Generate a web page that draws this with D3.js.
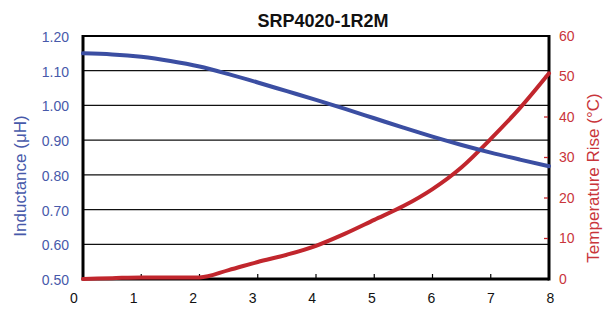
<!DOCTYPE html>
<html>
<head>
<meta charset="UTF-8">
<script src="https://cdn.jsdelivr.net/npm/d3@7"></script>
<style>
  body { margin: 0; background: #fff; }
  text { font-family: "Liberation Sans Narrow", "Arial Narrow", sans-serif; }
  .title { font-family: "Liberation Sans", Arial, sans-serif; font-weight: bold; }
</style>
</head>
<body>
<script>
// current (A)
var current = [0, 0.5, 1, 1.5, 2, 2.5, 3, 3.5, 4, 4.5, 5, 5.5, 6, 6.5, 7, 7.5, 8];
// inductance (uH)
var inductance = [1.150, 1.147, 1.140, 1.128, 1.112, 1.090, 1.066, 1.041, 1.016, 0.990, 0.963, 0.936, 0.910, 0.886, 0.864, 0.844, 0.825];
// temperature rise (C)
var tempRise = [0, 0.2, 0.4, 0.4, 0.4, 2.2, 4.2, 6.0, 8.2, 11.2, 14.6, 18.0, 22.2, 27.6, 34.6, 42.2, 50.8];

var xTicks = [0, 1, 2, 3, 4, 5, 6, 7, 8];
var leftTicks = [0.5, 0.6, 0.7, 0.8, 0.9, 1.0, 1.1, 1.2];
var rightTicks = [0, 10, 20, 30, 40, 50, 60];

var W = 613, H = 312;
var pLeft = 83, pRight = 549, pTop = 36, pBottom = 279;
var blue = "#3b4ea2", blueText = "#4759aa";
var red = "#c1262d", redText = "#c9353b";

var svg = d3.select("body").append("svg")
  .attr("width", W).attr("height", H);

var x = d3.scaleLinear().domain([0, 8]).range([pLeft, pRight]);
// the tick labels sit a bit to the left of the tick marks in the original
var xLab = d3.scaleLinear().domain([0, 8]).range([73.5, 550]);
var yL = d3.scaleLinear().domain([0.5, 1.2]).range([pBottom, pTop]);
var yR = d3.scaleLinear().domain([0, 60]).range([pBottom, pTop]);

// gridlines
svg.append("g").selectAll("line")
  .data(leftTicks.slice(1, -1))
  .enter().append("line")
  .attr("x1", pLeft).attr("x2", pRight)
  .attr("y1", function(d) { return yL(d); })
  .attr("y2", function(d) { return yL(d); })
  .attr("stroke", "#111").attr("stroke-width", 1.3);

// frame
svg.append("line").attr("x1", pLeft).attr("x2", pRight).attr("y1", pTop).attr("y2", pTop)
  .attr("stroke", "#000").attr("stroke-width", 2.2);
svg.append("line").attr("x1", pLeft).attr("x2", pLeft).attr("y1", pTop - 1).attr("y2", pBottom + 1.5)
  .attr("stroke", "#000").attr("stroke-width", 3);
svg.append("line").attr("x1", pRight).attr("x2", pRight).attr("y1", pTop - 1).attr("y2", pBottom + 1.5)
  .attr("stroke", "#000").attr("stroke-width", 3);
svg.append("line").attr("x1", pLeft).attr("x2", pRight).attr("y1", pBottom).attr("y2", pBottom)
  .attr("stroke", "#000").attr("stroke-width", 3);

// bottom tick marks (inside)
svg.append("g").selectAll("line")
  .data(xTicks.slice(1, -1))
  .enter().append("line")
  .attr("x1", function(d) { return x(d); }).attr("x2", function(d) { return x(d); })
  .attr("y1", pBottom).attr("y2", pBottom - 5)
  .attr("stroke", "#000").attr("stroke-width", 1.2);

// right tick marks (red, inside)
svg.append("g").selectAll("line")
  .data(rightTicks.slice(1, -1))
  .enter().append("line")
  .attr("x1", pRight - 5).attr("x2", pRight - 1)
  .attr("y1", function(d) { return yR(d); }).attr("y2", function(d) { return yR(d); })
  .attr("stroke", red).attr("stroke-width", 1.3);

// x labels
var xAxis = d3.axisBottom(xLab).tickValues(xTicks).tickSize(0).tickPadding(0);
var gx = svg.append("g").attr("transform", "translate(0,293)").call(xAxis);
gx.select(".domain").remove();
gx.selectAll("text").attr("font-size", 14).attr("fill", "#111").attr("font-family", null);

// left labels
var yAxisL = d3.axisLeft(yL).tickValues(leftTicks).tickSize(0).tickPadding(0)
  .tickFormat(d3.format(".2f"));
var gl = svg.append("g").attr("transform", "translate(69,1)").call(yAxisL);
gl.select(".domain").remove();
gl.selectAll("text").attr("font-size", 14).attr("fill", blueText).attr("font-family", null);

// right labels
var yAxisR = d3.axisRight(yR).tickValues(rightTicks).tickSize(0).tickPadding(0);
var gr = svg.append("g").attr("transform", "translate(559,0)").call(yAxisR);
gr.select(".domain").remove();
gr.selectAll("text").attr("font-size", 14).attr("fill", redText).attr("font-family", null);

// titles
svg.append("text").attr("class", "title")
  .attr("x", 323).attr("y", 27).attr("text-anchor", "middle")
  .attr("font-size", 18).attr("fill", "#111")
  .text("SRP4020-1R2M");

svg.append("text")
  .attr("transform", "translate(26,176) rotate(-90)")
  .attr("text-anchor", "middle").attr("font-size", 17).attr("fill", blueText)
  .text("Inductance (μH)");

svg.append("text")
  .attr("transform", "translate(599,178) rotate(-90)")
  .attr("text-anchor", "middle").attr("font-size", 17).attr("fill", redText)
  .text("Temperature Rise (°C)");

// curves
var lineL = d3.line()
  .x(function(d, i) { return x(current[i]); })
  .y(function(d) { return yL(d); })
  .curve(d3.curveMonotoneX);
var lineR = d3.line()
  .x(function(d, i) { return x(current[i]); })
  .y(function(d) { return yR(d); })
  .curve(d3.curveMonotoneX);

svg.append("path").datum(tempRise)
  .attr("d", lineR).attr("fill", "none")
  .attr("stroke", red).attr("stroke-width", 4).attr("stroke-linecap", "round");

svg.append("path").datum(inductance)
  .attr("d", lineL).attr("fill", "none")
  .attr("stroke", blue).attr("stroke-width", 4).attr("stroke-linecap", "round");
</script>
</body>
</html>
